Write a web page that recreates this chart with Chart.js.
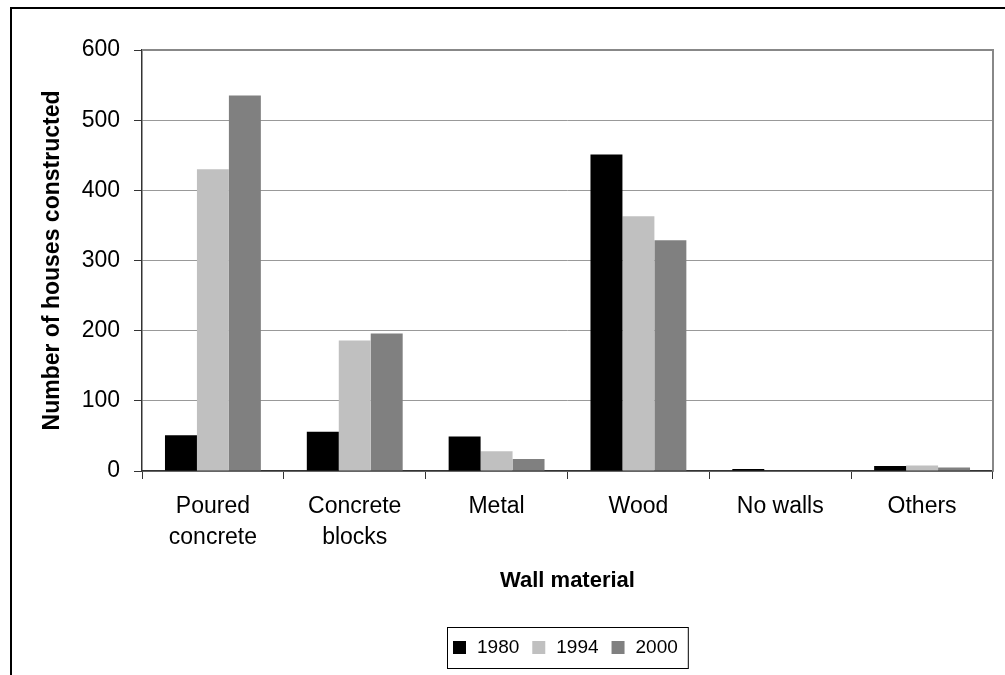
<!DOCTYPE html>
<html>
<head>
<meta charset="utf-8">
<script src="https://cdn.jsdelivr.net/npm/chart.js@4/dist/chart.umd.min.js"></script>
<style>
  html, body { margin: 0; padding: 0; background: #fff; overflow: hidden; }
  #wrap { width: 1005px; height: 675px; position: relative; }
</style>
</head>
<body>
<div id="wrap"><canvas id="c" width="1005" height="675"></canvas></div>
<script>
// ---- data ----
const categories = [['Poured', 'concrete'], ['Concrete', 'blocks'], 'Metal', 'Wood', 'No walls', 'Others'];
const seriesNames = ['1980', '1994', '2000'];
const values1980 = [51, 56, 49, 451, 3, 7];
const values1994 = [430, 186, 28, 363, 0, 8];
const values2000 = [535, 196, 17, 329, 0, 5];
const yTicks = [0, 100, 200, 300, 400, 500, 600];
const xTitle = 'Wall material';
const yTitle = 'Number of houses constructed';

const colors = ['#000000', '#c0c0c0', '#808080'];
const FONT = '"Liberation Sans", Arial, sans-serif';

const framePlugin = {
  id: 'frame',
  beforeDraw(chart) {
    const ctx = chart.ctx;
    ctx.save();
    ctx.fillStyle = '#fff';
    ctx.fillRect(0, 0, chart.width, chart.height);
    ctx.strokeStyle = '#000';
    ctx.lineWidth = 2;
    ctx.beginPath();
    ctx.moveTo(11, chart.height + 2);
    ctx.lineTo(11, 8);
    ctx.lineTo(chart.width + 2, 8);
    ctx.stroke();
    ctx.restore();
  },
  afterDraw(chart) {
    const ctx = chart.ctx;
    const a = chart.chartArea;
    ctx.save();
    ctx.strokeStyle = '#888';
    ctx.lineWidth = 2;
    ctx.beginPath();
    ctx.moveTo(a.left, a.top);
    ctx.lineTo(a.right, a.top);
    ctx.lineTo(a.right, a.bottom);
    ctx.stroke();
    ctx.restore();

    // legend with border
    ctx.save();
    ctx.font = '19px ' + FONT;
    ctx.textBaseline = 'middle';
    ctx.textAlign = 'left';
    const box = 13, gapText = 11, gapItem = 13;
    const items = chart.data.datasets.map(d => ({label: d.label, color: d.backgroundColor, w: ctx.measureText(d.label).width}));
    let total = 0;
    items.forEach((it, i) => { total += box + gapText + it.w + (i < items.length - 1 ? gapItem : 0); });
    const padL = 6, padR = 10;
    const boxW = total + padL + padR;
    const cx = (a.left + a.right) / 2;
    const bx = Math.round(cx - boxW / 2);
    const by = 627, bh = 41;
    ctx.strokeStyle = '#000';
    ctx.lineWidth = 1;
    ctx.strokeRect(bx + 0.5, by + 0.5, boxW, bh);
    let x = bx + padL;
    const cy = by + bh / 2;
    items.forEach(it => {
      ctx.fillStyle = it.color;
      ctx.fillRect(x, cy - box / 2, box, box);
      x += box + gapText;
      ctx.fillStyle = '#000';
      ctx.fillText(it.label, x, cy);
      x += it.w + gapItem;
    });
    ctx.restore();
  }
};

new Chart(document.getElementById('c'), {
  type: 'bar',
  data: {
    labels: categories,
    datasets: [
      { label: seriesNames[0], data: values1980, backgroundColor: colors[0] },
      { label: seriesNames[1], data: values1994, backgroundColor: colors[1] },
      { label: seriesNames[2], data: values2000, backgroundColor: colors[2] }
    ]
  },
  options: {
    responsive: false,
    animation: false,
    layout: { padding: { top: 50, right: 12, left: 0, bottom: 0 } },
    datasets: { bar: { categoryPercentage: 0.676, barPercentage: 1.0 } },
    plugins: { legend: { display: false }, tooltip: { enabled: false } },
    scales: {
      x: {
        offset: true,
        grid: { display: true, drawOnChartArea: false, drawTicks: true, tickLength: 8, tickColor: '#333', offset: true },
        border: { display: true, color: '#333', width: 1.5 },
        ticks: { color: '#000', font: { family: FONT, size: 23, lineHeight: 1.35 }, padding: 12, maxRotation: 0, autoSkip: false },
        title: { display: true, text: xTitle, color: '#000', font: { family: FONT, size: 22, weight: 'bold', lineHeight: 1.2 }, padding: { top: 0, bottom: 81 } },
        afterFit(scale) { scale.height = 675 - 471; }
      },
      y: {
        min: 0, max: 600,
        afterBuildTicks(scale) { scale.ticks = yTicks.map(v => ({ value: v })); },
        grid: { color: '#999', lineWidth: 1, tickColor: '#333', tickLength: 8 },
        border: { display: true, color: '#333', width: 1.5 },
        ticks: { color: '#000', font: { family: FONT, size: 23 }, padding: 14 },
        title: { display: true, text: yTitle, color: '#000', font: { family: FONT, size: 23, weight: 'bold', lineHeight: 1.2 }, padding: { top: 39, bottom: 0 } },
        afterFit(scale) { scale.width = 142; }
      }
    }
  },
  plugins: [framePlugin]
});
</script>
</body>
</html>
